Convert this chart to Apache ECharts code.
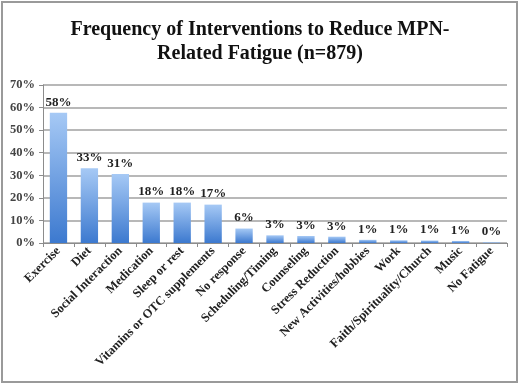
<!DOCTYPE html>
<html>
<head>
<meta charset="utf-8">
<script src="https://cdn.jsdelivr.net/npm/echarts@6/dist/echarts.min.js"></script>
<style>
  html, body { margin: 0; padding: 0; background: #fff; }
  #chart { width: 520px; height: 385px; }
</style>
</head>
<body>
<div id="chart"></div>
<script>
var categories = ["Exercise", "Diet", "Social Interaction", "Medication", "Sleep or rest",
  "Vitamins or OTC supplements", "No response", "Scheduling/Timing", "Counseling",
  "Stress Reduction", "New Activities/hobbies", "Work", "Faith/Spirituality/Church",
  "Music", "No Fatigue"];
var percents = [57.7, 33.1, 30.6, 17.9, 17.9, 17.0, 6.4, 3.4, 3.1, 2.8, 1.4, 1.2, 1.1, 0.9, 0.3];
var yTicks = [0, 10, 20, 30, 40, 50, 60, 70];

var serif = "Liberation Serif";

var option = {
  animation: false,
  title: {
    text: "Frequency of Interventions to Reduce MPN-\nRelated Fatigue (n=879)",
    left: "center",
    top: 13,
    textStyle: {
      fontFamily: serif,
      fontWeight: "bold",
      fontSize: 20,
      lineHeight: 24,
      color: "#111"
    }
  },
  graphic: [{
    type: "rect",
    shape: { x: 2, y: 2, width: 515, height: 380 },
    style: { fill: "none", stroke: "#9a9a9a", lineWidth: 2 },
    silent: true
  }],
  grid: {
    left: 43,
    right: 13,
    top: 85,
    bottom: 142
  },
  xAxis: {
    type: "category",
    data: categories,
    axisLine: { lineStyle: { color: "#8c8c8c", width: 1 } },
    axisTick: { show: true, alignWithLabel: false, length: 4, lineStyle: { color: "#8c8c8c" } },
    axisLabel: {
      rotate: 45,
      interval: 0,
      margin: 6,
      fontFamily: serif,
      fontWeight: "bold",
      fontSize: 12.5,
      color: "#222"
    }
  },
  yAxis: {
    type: "value",
    min: yTicks[0],
    max: yTicks[yTicks.length - 1],
    interval: 10,
    axisLine: { show: true, lineStyle: { color: "#8c8c8c" } },
    axisTick: { show: true, length: 4, lineStyle: { color: "#8c8c8c" } },
    splitLine: { lineStyle: { color: "#a0a0a0", width: 1.5 } },
    axisLabel: {
      formatter: function (v) { return v + "%"; },
      fontFamily: serif,
      fontWeight: "bold",
      fontSize: 12.5,
      color: "#444",
      margin: 8
    }
  },
  series: [{
    type: "bar",
    data: percents,
    barWidth: "56%",
    itemStyle: {
      color: new echarts.graphic.LinearGradient(0, 0, 0, 1, [
        { offset: 0, color: "#a6c9f5" },
        { offset: 1, color: "#3c79cf" }
      ])
    },
    label: {
      show: true,
      position: "top",
      distance: 4,
      formatter: function (p) { return Math.round(p.value) + "%"; },
      fontFamily: serif,
      fontWeight: "bold",
      fontSize: 13,
      color: "#222"
    }
  }]
};

var chart = echarts.init(document.getElementById("chart"));
chart.setOption(option);
</script>
</body>
</html>
